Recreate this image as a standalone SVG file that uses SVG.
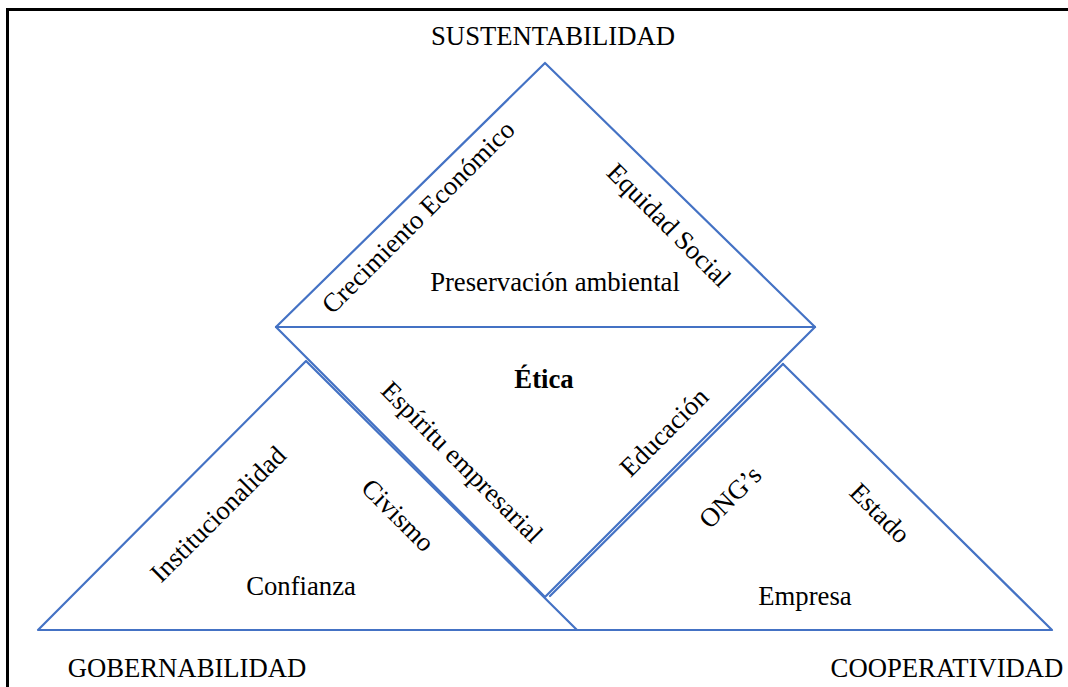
<svg xmlns="http://www.w3.org/2000/svg" width="1068" height="687" viewBox="0 0 1068 687">
<style>
.t{font-family:"Liberation Serif","Times New Roman",serif;font-size:26.7px;fill:#000;}
.c{text-anchor:middle;dominant-baseline:central;}
.e{stroke:#4472C4;stroke-width:2.2;fill:none;stroke-linecap:round;stroke-linejoin:round;}
</style>
<rect x="7.5" y="9.5" width="1070" height="690" fill="#fff" stroke="#000" stroke-width="3"/>
<g id="connectors">
<polyline class="e" points="545,63 815,327 276,327 545,63"/>
<polyline class="e" points="276,327 545,597 815,327"/>
<polyline class="e" points="306,361 577,630 38,630 306,361"/>
<polyline class="e" points="783,364 1052,630 545,630"/>
<line class="e" x1="783" y1="364" x2="550" y2="596"/>
</g>
<g id="n-sustentabilidad"><text class="t" x="553" y="45" text-anchor="middle">SUSTENTABILIDAD</text></g>
<g id="n-gobernabilidad"><text class="t" x="187" y="677" text-anchor="middle">GOBERNABILIDAD</text></g>
<g id="n-cooperatividad"><text class="t" x="947" y="677" text-anchor="middle">COOPERATIVIDAD</text></g>
<g id="n-top">
<text class="t c" transform="translate(418,217) rotate(-45)">Crecimiento Económico</text>
<text class="t c" transform="translate(669,225) rotate(45)">Equidad Social</text>
<text class="t" x="555" y="291" text-anchor="middle">Preservación ambiental</text>
</g>
<g id="n-middle">
<text class="t" x="544" y="388" text-anchor="middle" font-weight="bold">Ética</text>
<text class="t c" transform="translate(462,462) rotate(45)">Espíritu empresarial</text>
<text class="t c" transform="translate(664,432) rotate(-45)">Educación</text>
</g>
<g id="n-left">
<text class="t c" transform="translate(218,514) rotate(-45)">Institucionalidad</text>
<text class="t c" transform="translate(398,515) rotate(45)">Civismo</text>
<text class="t" x="301" y="595" text-anchor="middle">Confianza</text>
</g>
<g id="n-right">
<text class="t c" transform="translate(730,497) rotate(-45)">ONG’s</text>
<text class="t c" transform="translate(880,513) rotate(45)">Estado</text>
<text class="t" x="805" y="605" text-anchor="middle">Empresa</text>
</g>
</svg>
